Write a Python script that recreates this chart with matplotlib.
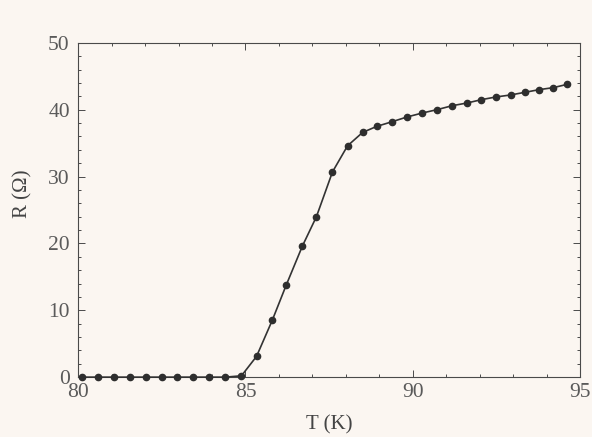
import matplotlib
matplotlib.use("Agg")
import matplotlib.pyplot as plt
from matplotlib.ticker import MultipleLocator

# temperatura (K) e resistência (ohm)
temperatura = [80.12, 80.60, 81.07, 81.55, 82.02, 82.50, 82.95, 83.42, 83.90, 84.40,
               84.88, 85.33, 85.80, 86.22, 86.70, 87.12, 87.60, 88.05, 88.50, 88.92,
               89.38, 89.82, 90.28, 90.72, 91.18, 91.62, 92.05, 92.48, 92.92, 93.35,
               93.78, 94.20, 94.62]
resistencia = [0.0, 0.0, 0.0, 0.0, 0.0, 0.0, 0.0, 0.0, 0.0, 0.0,
               0.2, 3.1, 8.5, 13.8, 19.6, 24.0, 30.7, 34.6, 36.6, 37.5,
               38.2, 38.9, 39.5, 40.0, 40.6, 41.0, 41.5, 41.9, 42.2, 42.6,
               43.0, 43.3, 43.8]

fundo = "#fbf6f1"
cinza = "#4a4a4a"

plt.rcParams["font.family"] = ["Liberation Serif", "DejaVu Serif"]

fig = plt.figure(figsize=(5.92, 4.37), dpi=100, facecolor=fundo)
ax = fig.add_axes([0.132, 0.137, 0.848, 0.765], facecolor=fundo)

ax.plot(temperatura, resistencia, color="#333333", lw=1.2,
        marker="o", markersize=4.5, markerfacecolor="#2e2e2e",
        markeredgecolor="#2e2e2e", clip_on=False, zorder=3)

ax.set_xlim(80, 95)
ax.set_ylim(0, 50)
ax.xaxis.set_major_locator(MultipleLocator(5))
ax.xaxis.set_minor_locator(MultipleLocator(1))
ax.yaxis.set_major_locator(MultipleLocator(10))
ax.yaxis.set_minor_locator(MultipleLocator(2))

ax.tick_params(which="both", direction="in", top=True, right=True,
               color=cinza, width=0.7, labelsize=15.5, labelcolor="#5a5a5a")
ax.tick_params(which="major", length=5)
ax.tick_params(which="minor", length=2.5)
ax.tick_params(axis="x", which="major", pad=4)
ax.tick_params(axis="y", which="major", pad=6)

for s in ax.spines.values():
    s.set_color(cinza)
    s.set_linewidth(0.8)

ax.set_xlabel("T (K)", fontsize=15, color="#444444", labelpad=10)
ax.set_ylabel("R (Ω)", fontsize=15, color="#444444")
ax.yaxis.set_label_coords(-0.09, 0.55)

fig.savefig("out.png", dpi=100, facecolor=fundo)
